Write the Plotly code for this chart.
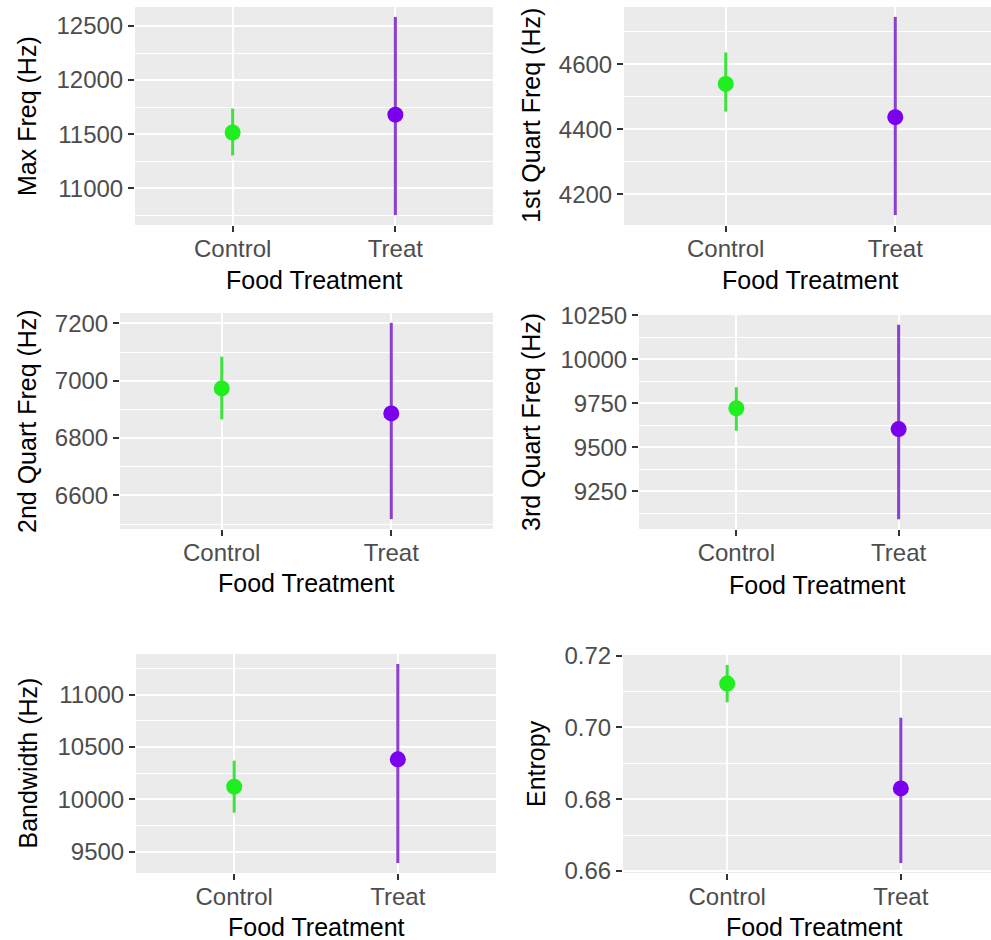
import plotly.graph_objects as go

W, H = 991, 940

categories = ["Control", "Treat"]

max_freq_mean = [11515, 11680]
max_freq_low = [11302, 10751]
max_freq_high = [11736, 12584]

q1_mean = [4539, 4437]
q1_low = [4454, 4136]
q1_high = [4636, 4745]

q2_mean = [6973, 6886]
q2_low = [6865, 6517]
q2_high = [7084, 7202]

q3_mean = [9722, 9604]
q3_low = [9594, 9091]
q3_high = [9842, 10197]

bw_mean = [10121, 10382]
bw_low = [9872, 9391]
bw_high = [10370, 11294]

ent_mean = [0.7122, 0.6830]
ent_low = [0.7070, 0.6622]
ent_high = [0.7174, 0.7027]

y_titles = ["Max Freq (Hz)", "1st Quart Freq (Hz)", "2nd Quart Freq (Hz)",
            "3rd Quart Freq (Hz)", "Bandwidth (Hz)", "Entropy"]
x_title = "Food Treatment"

panels = [
    (max_freq_mean, max_freq_low, max_freq_high),
    (q1_mean, q1_low, q1_high),
    (q2_mean, q2_low, q2_high),
    (q3_mean, q3_low, q3_high),
    (bw_mean, bw_low, bw_high),
    (ent_mean, ent_low, ent_high),
]

# layout (pixels): left, right, top, bottom, true_right
boxes = [
    (135, 493, 7, 225, 493),
    (624, 991, 7, 225, 997),
    (120, 493, 313, 529, 493),
    (639, 991, 315, 529, 996),
    (136, 496, 654, 873, 496),
    (623, 991, 655, 873, 1005),
]
dticks = [500, 200, 200, 250, 500, 0.02]
fmts = ["d", "d", "d", "d", "d", ".2f"]
ytitle_x = [27, 531, 27, 531, 27, 536]
xtitle_y = [280, 280, 583, 585, 927, 927]

colors_pt = ["#1FEE1F", "#7A00EE"]
colors_ln = ["#3FE33F", "#8A3FD0"]

fig = go.Figure()
FONT = "Liberation Sans, Arial, sans-serif"
annotations = []

for i, ((m, lo, hi), (l, r, t, b, tr), dt, fmt) in enumerate(zip(panels, boxes, dticks, fmts)):
    n = "" if i == 0 else str(i + 1)
    xa = "x" + n
    ya = "y" + n
    for j, cat in enumerate(categories):
        fig.add_trace(go.Scatter(
            x=[cat], y=[m[j]], mode="markers",
            marker=dict(size=16, color=colors_pt[j], line=dict(width=0)),
            error_y=dict(type="data", symmetric=False,
                         array=[hi[j] - m[j]], arrayminus=[m[j] - lo[j]],
                         width=0, thickness=3, color=colors_ln[j]),
            xaxis=xa, yaxis=ya, showlegend=False, hoverinfo="skip",
        ))
    # ggplot-like continuous expansion
    dmin, dmax = min(lo), max(hi)
    span = dmax - dmin
    yr = [dmin - 0.05 * span, dmax + 0.05 * span]
    # discrete x range: category positions at 0,1 with 0.6 expansion
    unit = (tr - l) / 2.2
    xr = [-0.6, -0.6 + (r - l) / unit]
    common = dict(showline=False, zeroline=False, ticks="outside", ticklen=6,
                  tickwidth=1.5, tickcolor="#333333", automargin=False,
                  tickfont=dict(family=FONT, size=24, color="#4D4D4D"),
                  gridcolor="#FFFFFF", gridwidth=2, showgrid=True)
    fig.layout["xaxis" + n] = dict(
        domain=[l / W, r / W], anchor=ya, type="category",
        categoryorder="array", categoryarray=categories, range=xr,
        ticklabelstandoff=-4, **common)
    fig.layout["yaxis" + n] = dict(
        domain=[1 - b / H, 1 - t / H], anchor=xa, range=yr, dtick=dt, tick0=0,
        tickformat=fmt,
        minor=dict(dtick=dt / 2, tick0=0, showgrid=True, gridcolor="#FFFFFF",
                   gridwidth=1, ticklen=0),
        **common)
    fig.add_shape(type="rect", xref="paper", yref="paper",
                  x0=l / W, x1=r / W, y0=1 - b / H, y1=1 - t / H,
                  fillcolor="#EBEBEB", line=dict(width=0), layer="below")
    annotations.append(dict(
        text=x_title, xref="paper", yref="paper", x=(l + tr) / 2 / W,
        y=1 - xtitle_y[i] / H, showarrow=False, xanchor="center", yanchor="middle",
        font=dict(family=FONT, size=25, color="#000000")))
    annotations.append(dict(
        text=y_titles[i], xref="paper", yref="paper", x=ytitle_x[i] / W,
        y=1 - (t + b) / 2 / H, showarrow=False, xanchor="center", yanchor="middle",
        textangle=-90, font=dict(family=FONT, size=25, color="#000000")))

fig.update_layout(
    width=W, height=H, margin=dict(l=0, r=0, t=0, b=0, autoexpand=False),
    paper_bgcolor="#FFFFFF", plot_bgcolor="rgba(0,0,0,0)",
    annotations=annotations, font=dict(family=FONT),
)

fig.write_html(
    "out.html",
    config={"displayModeBar": False},
    post_script="document.body.style.margin='0';document.body.style.padding='0';"
                "document.documentElement.style.overflow='hidden';",
)
